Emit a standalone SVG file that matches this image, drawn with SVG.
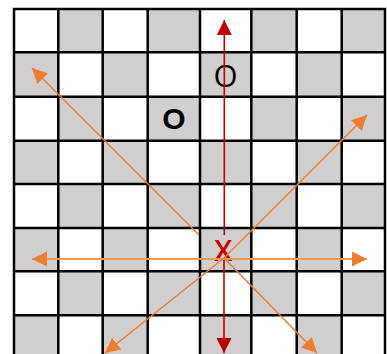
<svg xmlns="http://www.w3.org/2000/svg" width="387" height="354" viewBox="0 0 387 354">
<style>
.g{fill:#D0CECE}
.ln{stroke:#000;stroke-width:2.5;fill:none}
.red{stroke:#C00000;stroke-width:1.6;fill:none}
.or{stroke:#ED7D31;stroke-width:1.5;fill:none}
.orh{stroke:#F09A55;stroke-width:2;fill:none}
.t{font-family:"Liberation Sans",Arial,sans-serif;text-anchor:middle}
.os{font-family:"Open Sans","Liberation Sans",sans-serif;text-anchor:middle}
</style>
<defs>
<marker id="ao" markerUnits="userSpaceOnUse" markerWidth="16" markerHeight="16" viewBox="0 0 16 16" refX="15" refY="7.5" orient="auto-start-reverse"><path d="M0,0 L15,7.5 L0,15 z" fill="#ED7D31"/></marker>
<marker id="ar" markerUnits="userSpaceOnUse" markerWidth="16" markerHeight="16" viewBox="0 0 16 16" refX="15" refY="7.5" orient="auto"><path d="M0,0 L15,7.5 L0,15 z" fill="#C00000"/></marker>
</defs>
<rect width="387" height="354" fill="#fff"/>
<g id="board">
<rect class="g" x="58.3" y="9" width="44.4" height="43.3"/>
<rect class="g" x="147.7" y="9" width="52.3" height="43.3"/>
<rect class="g" x="251.3" y="9" width="45.4" height="43.3"/>
<rect class="g" x="341.7" y="9" width="43.3" height="43.3"/>
<rect class="g" x="14" y="52.3" width="44.3" height="44.4"/>
<rect class="g" x="102.7" y="52.3" width="45" height="44.4"/>
<rect class="g" x="200" y="52.3" width="51.3" height="44.4"/>
<rect class="g" x="296.7" y="52.3" width="45" height="44.4"/>
<rect class="g" x="58.3" y="96.7" width="44.4" height="44"/>
<rect class="g" x="147.7" y="96.7" width="52.3" height="44"/>
<rect class="g" x="251.3" y="96.7" width="45.4" height="44"/>
<rect class="g" x="341.7" y="96.7" width="43.3" height="44"/>
<rect class="g" x="14" y="140.7" width="44.3" height="43.3"/>
<rect class="g" x="102.7" y="140.7" width="45" height="43.3"/>
<rect class="g" x="200" y="140.7" width="51.3" height="43.3"/>
<rect class="g" x="296.7" y="140.7" width="45" height="43.3"/>
<rect class="g" x="58.3" y="184" width="44.4" height="44"/>
<rect class="g" x="147.7" y="184" width="52.3" height="44"/>
<rect class="g" x="251.3" y="184" width="45.4" height="44"/>
<rect class="g" x="341.7" y="184" width="43.3" height="44"/>
<rect class="g" x="14" y="228" width="44.3" height="43.3"/>
<rect class="g" x="102.7" y="228" width="45" height="43.3"/>
<rect class="g" x="200" y="228" width="51.3" height="43.3"/>
<rect class="g" x="296.7" y="228" width="45" height="43.3"/>
<rect class="g" x="58.3" y="271.3" width="44.4" height="44"/>
<rect class="g" x="147.7" y="271.3" width="52.3" height="44"/>
<rect class="g" x="251.3" y="271.3" width="45.4" height="44"/>
<rect class="g" x="341.7" y="271.3" width="43.3" height="44"/>
<rect class="g" x="14" y="315.3" width="44.3" height="40"/>
<rect class="g" x="102.7" y="315.3" width="45" height="40"/>
<rect class="g" x="200" y="315.3" width="51.3" height="40"/>
<rect class="g" x="296.7" y="315.3" width="45" height="40"/>
<path class="ln" d="M14,9V356 M58.3,9V356 M102.7,9V356 M147.7,9V356 M200,9V356 M251.3,9V356 M296.7,9V356 M341.7,9V356 M385,9V356 M12.75,9H386.25 M14,52.3H385 M14,96.7H385 M14,140.7H385 M14,184H385 M14,228H385 M14,271.3H385 M14,315.3H385"/>
</g>
<g id="node-o-top"><text class="os" x="225.5" y="87" font-size="31">O</text></g>
<g id="node-o-bold"><text class="t" x="174" y="129" font-size="30" font-weight="bold">O</text></g>
<g id="node-x"><text class="os" x="223.3" y="260.5" font-size="29" font-weight="600" fill="#C00000">X</text></g>
<g id="connectors">
<line class="red" x1="224.3" y1="235" x2="224.3" y2="20" marker-end="url(#ar)"/>
<line class="red" x1="224" y1="258" x2="224" y2="353" marker-end="url(#ar)"/>
<line class="orh" x1="32" y1="259" x2="367" y2="259" marker-start="url(#ao)" marker-end="url(#ao)"/>
<line class="or" x1="199" y1="235" x2="32" y2="68" marker-end="url(#ao)"/>
<line class="or" x1="224" y1="258" x2="367" y2="115" marker-end="url(#ao)"/>
<line class="or" x1="224" y1="258" x2="105" y2="353" marker-end="url(#ao)"/>
<line class="or" x1="224" y1="258" x2="317" y2="353" marker-end="url(#ao)"/>
</g>
</svg>
